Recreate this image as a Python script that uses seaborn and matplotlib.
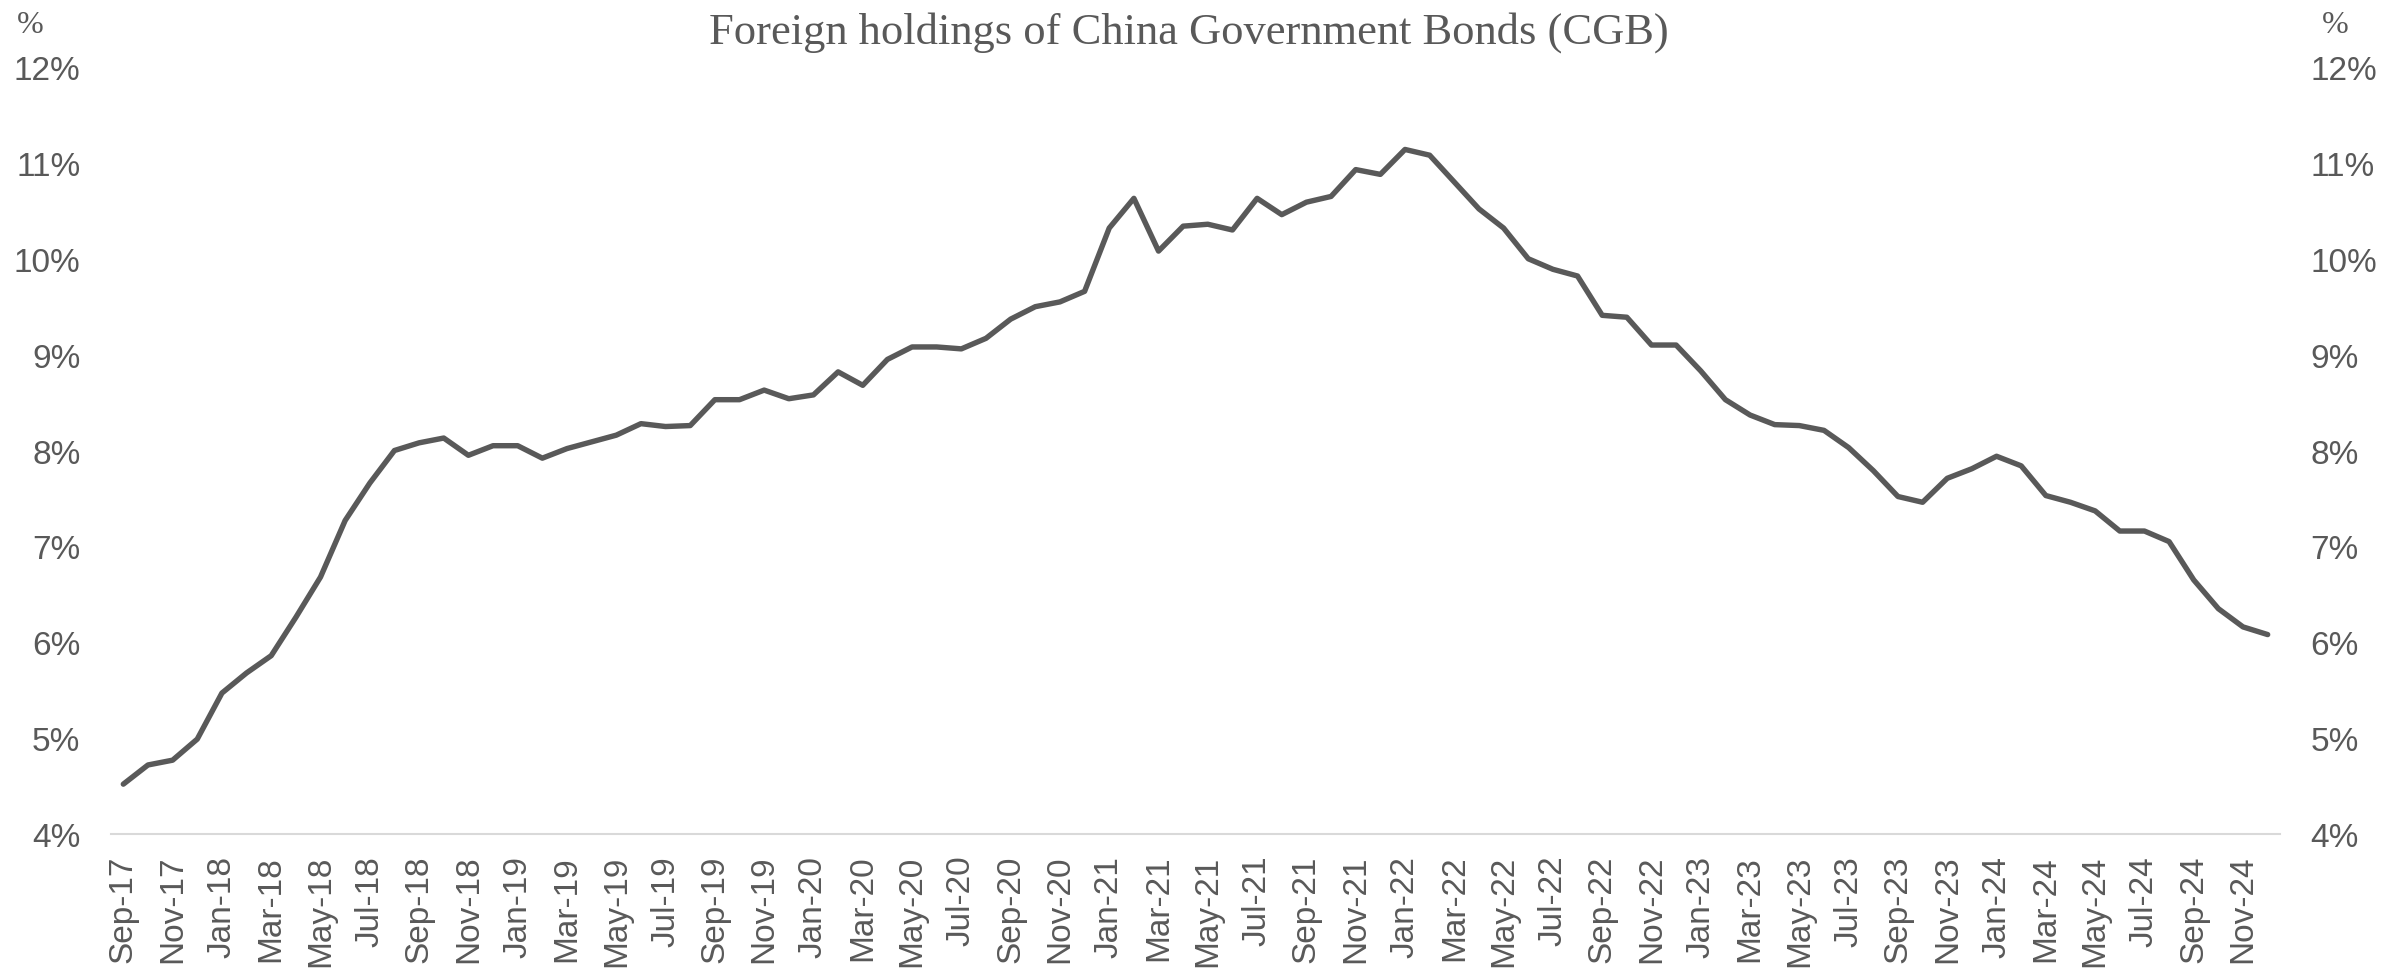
import matplotlib
matplotlib.use("Agg")
import matplotlib.pyplot as plt
import pandas as pd
import seaborn as sns
from matplotlib.ticker import FixedLocator, FuncFormatter

# --- data: foreign share of CGB holdings, monthly Sep-17 .. Dec-24 (%) ---
months = pd.date_range("2017-09-01", "2024-12-01", freq="MS")
share = [
    4.52, 4.72, 4.77, 4.99, 5.47, 5.68, 5.86, 6.26, 6.68, 7.27, 7.66, 8.00,
    8.08, 8.13, 7.95, 8.05, 8.05, 7.92, 8.02, 8.09, 8.16, 8.28, 8.25, 8.26,
    8.53, 8.53, 8.63, 8.54, 8.58, 8.82, 8.68, 8.95, 9.08, 9.08, 9.06, 9.17,
    9.37, 9.50, 9.55, 9.66, 10.32, 10.63, 10.08, 10.34, 10.36, 10.30, 10.63, 10.46,
    10.59, 10.65, 10.93, 10.88, 11.14, 11.08, 10.80, 10.52, 10.32, 10.00, 9.89, 9.82,
    9.41, 9.39, 9.10, 9.10, 8.83, 8.53, 8.37, 8.27, 8.26, 8.21, 8.03, 7.79,
    7.52, 7.46, 7.71, 7.81, 7.94, 7.84, 7.53, 7.46, 7.37, 7.16, 7.16, 7.05,
    6.65, 6.35, 6.16, 6.08,
]
month_labels = [m.strftime("%b-%y") for m in months]
y_ticks = [4, 5, 6, 7, 8, 9, 10, 11, 12]

df = pd.DataFrame({"idx": range(len(share)), "share": share})

sns.set_style("white")
plt.rcParams["font.family"] = ["Liberation Sans", "DejaVu Sans"]
GREY = "#595959"
AXIS_GREY = "#D9D9D9"

fig = plt.figure(figsize=(23.84, 9.70), dpi=100)
ax = fig.add_axes([111 / 2384, 1 - 835 / 970, (2280 - 111) / 2384, (835 - 68) / 970])

sns.lineplot(data=df, x="idx", y="share", ax=ax, color=GREY, linewidth=3.9)

n = len(share)
ax.set_xlim(-0.5, n - 0.5)
ax.set_ylim(4, 12)
ax.set_xlabel("")
ax.set_ylabel("")

# labels on every second month, tick marks between categories
ax.xaxis.set_major_locator(FixedLocator(list(range(0, n, 2))))
ax.set_xticklabels(month_labels[::2], rotation=90, fontsize=24, color=GREY)
ax.xaxis.set_minor_locator(FixedLocator([i - 0.5 for i in range(0, n + 1, 2)]))
ax.tick_params(axis="x", which="major", length=0, pad=15)
ax.tick_params(axis="x", which="minor", length=10, width=1.5, color=AXIS_GREY)

pct = FuncFormatter(lambda v, _: f"{v:.0f}%")
ax.set_yticks(y_ticks)
ax.yaxis.set_major_formatter(pct)
ax.tick_params(axis="y", length=0, pad=22, labelsize=24, labelcolor=GREY)

for side in ["left", "right", "top"]:
    ax.spines[side].set_visible(False)
ax.spines["bottom"].set_color(AXIS_GREY)
ax.spines["bottom"].set_linewidth(1.5)

# right hand axis, same scale
ax2 = ax.twinx()
ax2.set_ylim(4, 12)
ax2.set_yticks(y_ticks)
ax2.yaxis.set_major_formatter(pct)
ax2.tick_params(axis="y", length=0, pad=22, labelsize=24, labelcolor=GREY)
for side in ["left", "right", "top", "bottom"]:
    ax2.spines[side].set_visible(False)

fig.text(0.4988, 0.966, "Foreign holdings of China Government Bonds (CGB)",
         ha="center", va="center", fontsize=32, color=GREY, family="Liberation Serif")
fig.text(30 / 2384, 0.974, "%", ha="center", va="center", fontsize=23,
         color=GREY, family="Liberation Serif")
fig.text(2335 / 2384, 0.974, "%", ha="center", va="center", fontsize=23,
         color=GREY, family="Liberation Serif")

fig.savefig("out.png", dpi=100)
